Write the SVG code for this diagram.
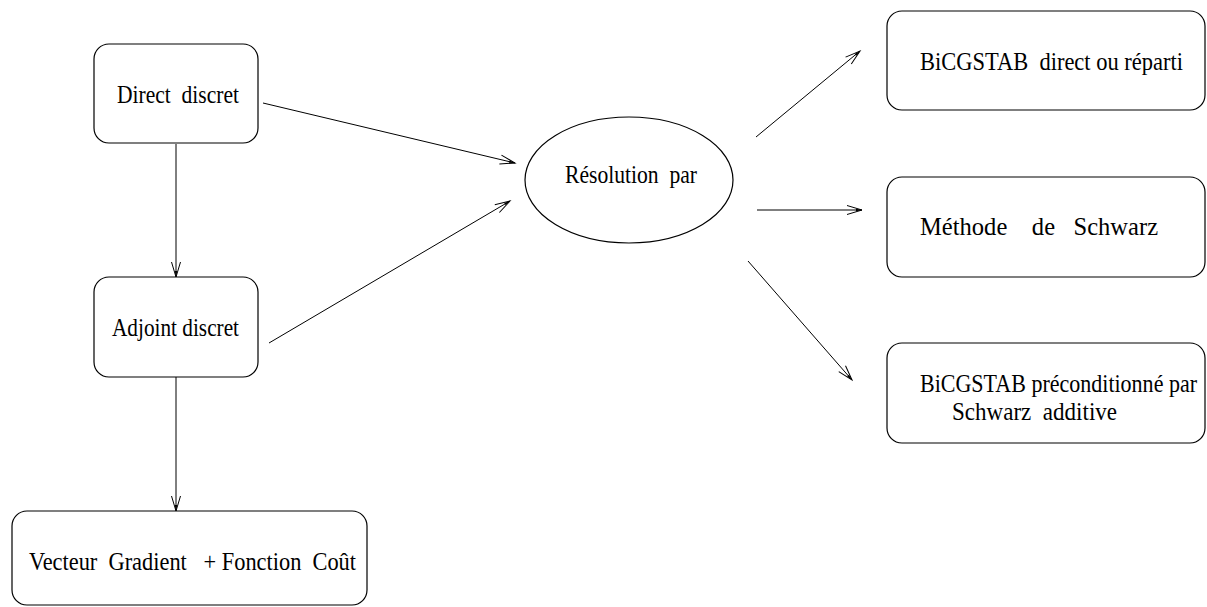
<svg xmlns="http://www.w3.org/2000/svg" width="1207" height="607" viewBox="0 0 1207 607">
<style>
.box{fill:#fff;stroke:#000;stroke-width:1.2}
.lbl{font-family:"Liberation Serif","Times New Roman",serif;font-size:26px;fill:#000;white-space:pre}
.con{stroke:#000;stroke-width:1;fill:none;marker-end:url(#ah)}
</style>
<defs>
<marker id="ah" markerUnits="userSpaceOnUse" markerWidth="20" markerHeight="12" viewBox="-17 -6 18 12" refX="0" refY="0" orient="auto">
<path d="M-15,-4.5 L0,0 L-15,4.5" fill="none" stroke="#000" stroke-width="1"/>
<path d="M-6,-1.2 L0,0 L-6,1.2 Z" fill="#000"/>
</marker>
</defs>
<rect width="1207" height="607" fill="#fff"/>
<g id="connectors">
<line class="con" x1="176" y1="144" x2="176" y2="277"/>
<line class="con" x1="176" y1="377" x2="176" y2="511"/>
<line class="con" x1="263" y1="103" x2="515" y2="163"/>
<line class="con" x1="269" y1="343" x2="510" y2="201"/>
<line class="con" x1="756" y1="137" x2="860" y2="51"/>
<line class="con" x1="757" y1="210" x2="862" y2="210"/>
<line class="con" x1="748" y1="261" x2="852" y2="380"/>
</g>
<g id="direct">
<rect class="box" x="94" y="44" width="164" height="99" rx="15"/>
<text class="lbl" transform="translate(117,103) scale(0.87,1)" textLength="140.2" lengthAdjust="spacingAndGlyphs">Direct  discret</text>
</g>
<g id="adjoint">
<rect class="box" x="94" y="277" width="164" height="100" rx="15"/>
<text class="lbl" transform="translate(112,336) scale(0.87,1)" textLength="146" lengthAdjust="spacingAndGlyphs">Adjoint discret</text>
</g>
<g id="vecteur">
<rect class="box" x="12" y="511" width="355" height="94" rx="15"/>
<text class="lbl" transform="translate(29,570) scale(0.87,1)" textLength="375.9" lengthAdjust="spacingAndGlyphs">Vecteur  Gradient   + Fonction  Coût</text>
</g>
<g id="resolution">
<ellipse class="box" cx="629" cy="180" rx="104" ry="63"/>
<text class="lbl" transform="translate(565,183) scale(0.87,1)" textLength="151.7" lengthAdjust="spacingAndGlyphs">Résolution  par</text>
</g>
<g id="bicgstab">
<rect class="box" x="887" y="11" width="318" height="99" rx="15"/>
<text class="lbl" transform="translate(920,70) scale(0.87,1)" textLength="302.3" lengthAdjust="spacingAndGlyphs">BiCGSTAB  direct ou réparti</text>
</g>
<g id="schwarz">
<rect class="box" x="887" y="177" width="318" height="100" rx="15"/>
<text class="lbl" transform="translate(920,235) scale(0.87,1)" textLength="273.6" lengthAdjust="spacingAndGlyphs">Méthode    de   Schwarz</text>
</g>
<g id="precond">
<rect class="box" x="887" y="343" width="318" height="100" rx="15"/>
<text class="lbl" transform="translate(920,392) scale(0.87,1)" textLength="318.4" lengthAdjust="spacingAndGlyphs">BiCGSTAB préconditionné par</text>
<text class="lbl" transform="translate(952,420) scale(0.87,1)" textLength="189.7" lengthAdjust="spacingAndGlyphs">Schwarz  additive</text>
</g>
</svg>
